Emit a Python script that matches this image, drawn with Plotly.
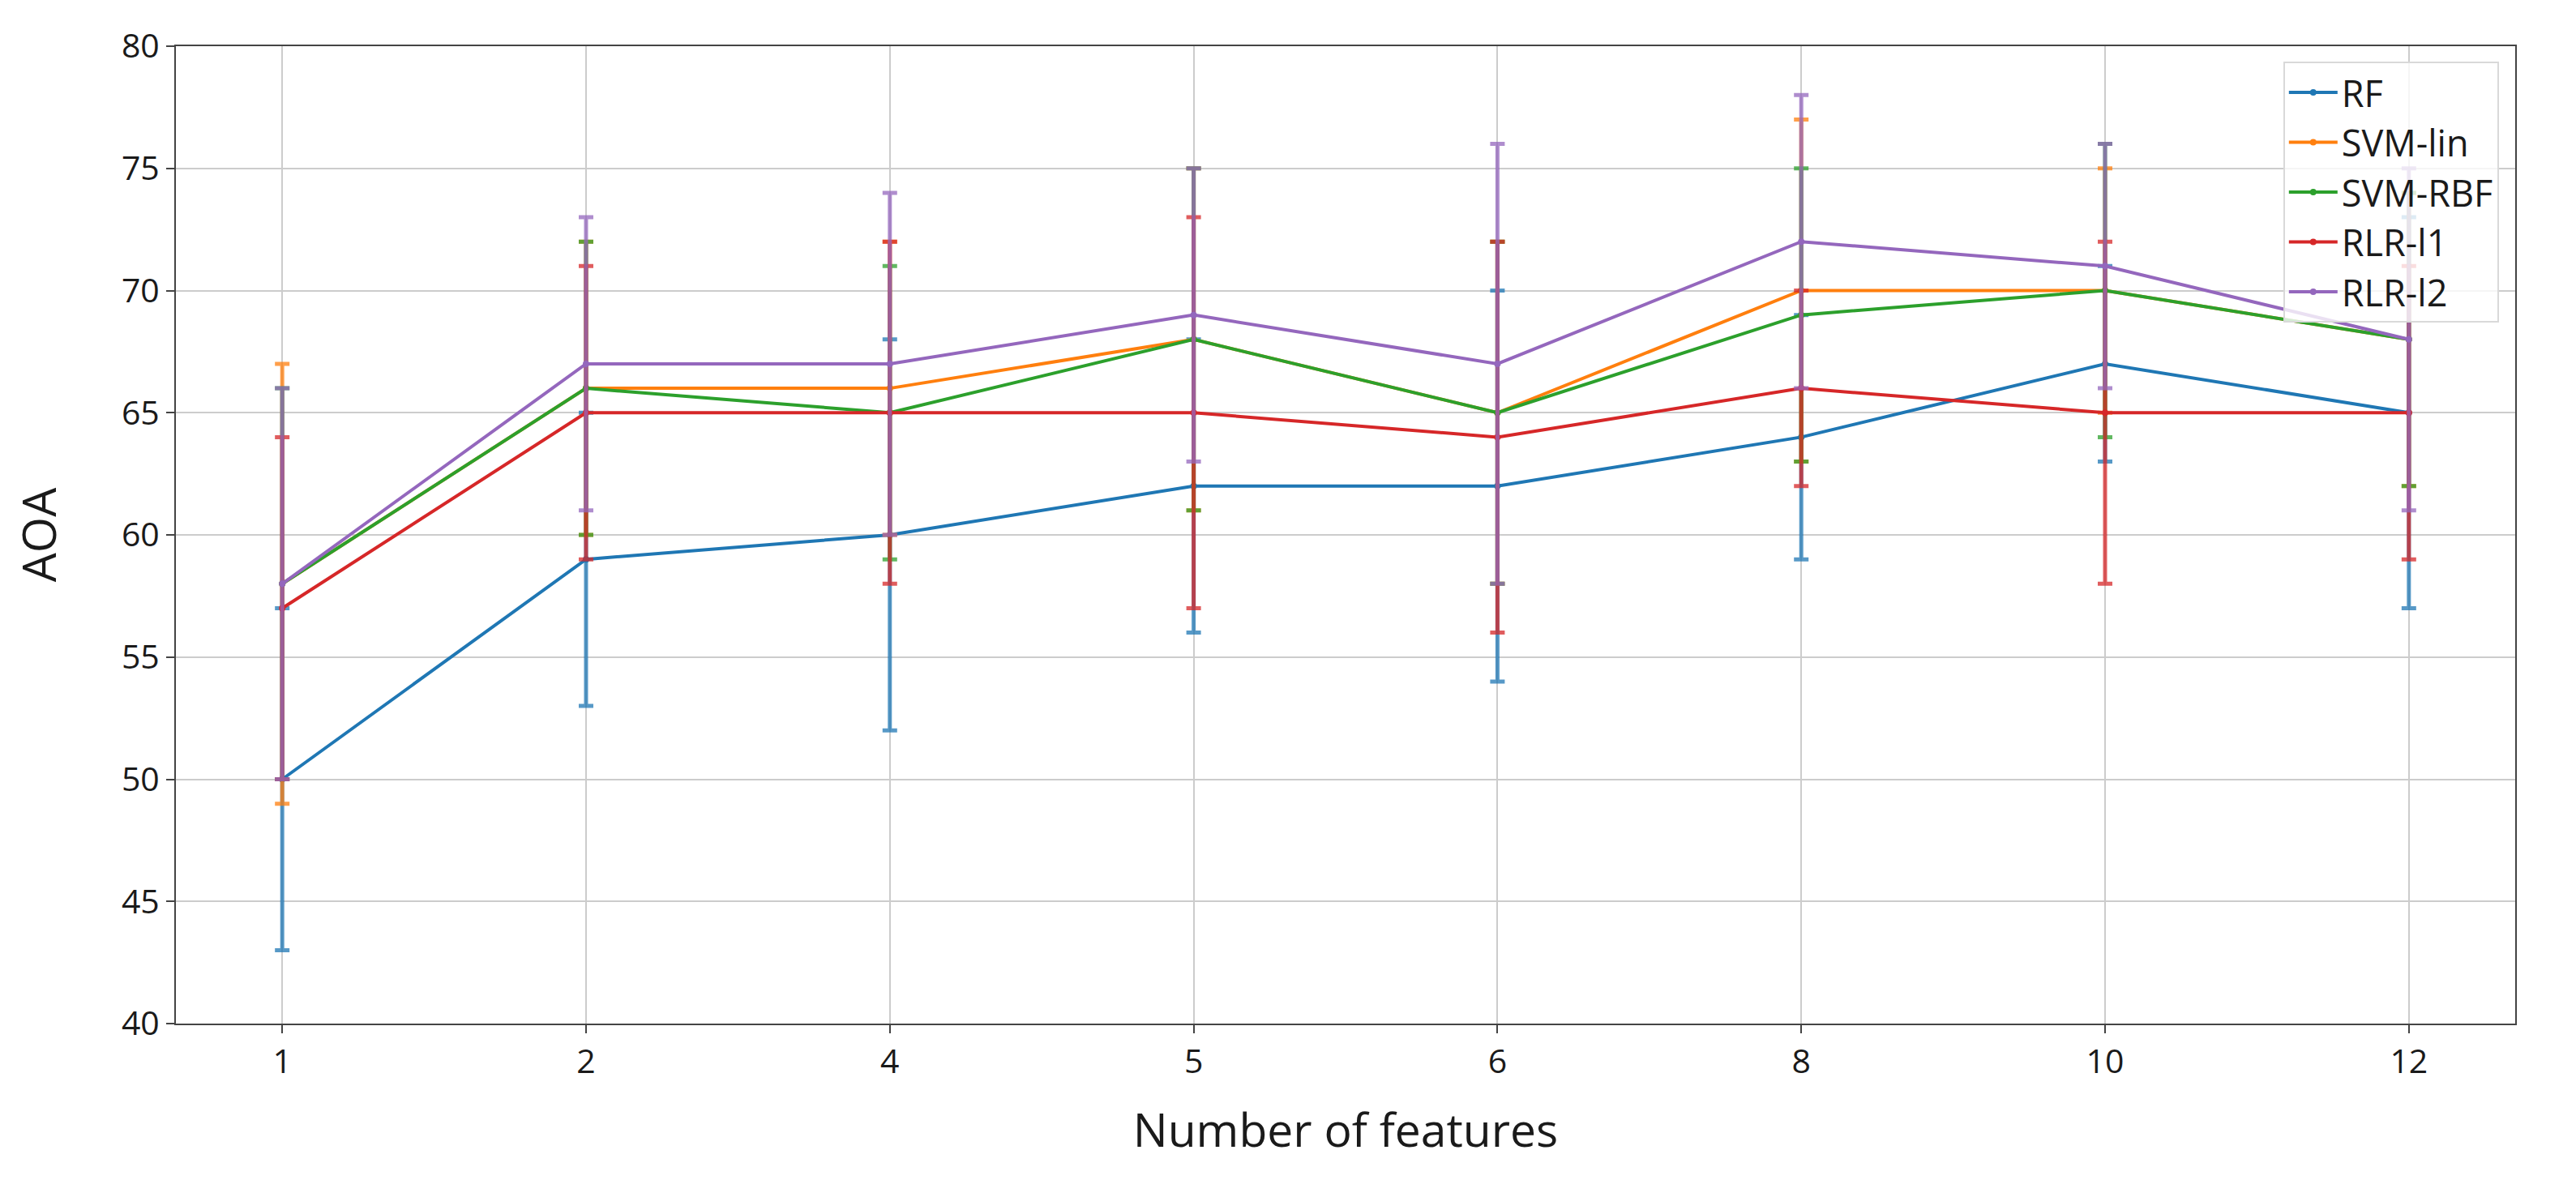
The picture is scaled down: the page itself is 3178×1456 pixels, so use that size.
import plotly.graph_objects as go

features = ["1", "2", "4", "5", "6", "8", "10", "12"]

rf_mean = [50, 59, 60, 62, 62, 64, 67, 65]
rf_err = [7, 6, 8, 6, 8, 5, 4, 8]

svm_lin_mean = [58, 66, 66, 68, 65, 70, 70, 68]
svm_lin_err = [9, 6, 6, 7, 7, 7, 5, 6]

svm_rbf_mean = [58, 66, 65, 68, 65, 69, 70, 68]
svm_rbf_err = [8, 6, 6, 7, 7, 6, 6, 6]

rlr_l1_mean = [57, 65, 65, 65, 64, 66, 65, 65]
rlr_l1_err = [7, 6, 7, 8, 8, 4, 7, 6]

rlr_l2_mean = [58, 67, 67, 69, 67, 72, 71, 68]
rlr_l2_err = [8, 6, 7, 6, 9, 6, 5, 7]

series = [
    ("RF", rf_mean, rf_err, "#1f77b4", "rgba(31,119,180,0.75)"),
    ("SVM-lin", svm_lin_mean, svm_lin_err, "#ff7f0e", "rgba(255,127,14,0.75)"),
    ("SVM-RBF", svm_rbf_mean, svm_rbf_err, "#2ca02c", "rgba(44,160,44,0.75)"),
    ("RLR-l1", rlr_l1_mean, rlr_l1_err, "#d62728", "rgba(214,39,40,0.75)"),
    ("RLR-l2", rlr_l2_mean, rlr_l2_err, "#9467bd", "rgba(148,103,189,0.75)"),
]

fig = go.Figure()
for name, mean, err, col, ecol in series:
    fig.add_trace(go.Scatter(
        x=features, y=mean, name=name, mode="lines+markers",
        line=dict(color=col, width=4),
        marker=dict(color=col, size=8),
        error_y=dict(type="data", array=err, visible=True, color=ecol,
                     thickness=5, width=9),
    ))

font_family = "Open Sans"
txt = "#1a1a1a"
fig.update_layout(
    width=3178, height=1456,
    margin=dict(l=209, r=83, t=49, b=201),
    paper_bgcolor="white", plot_bgcolor="white",
    font=dict(family=font_family, color=txt),
    showlegend=True,
    legend=dict(
        x=0.993, y=0.984, xanchor="right", yanchor="top",
        bgcolor="rgba(255,255,255,0.8)", bordercolor="#d9d9d9", borderwidth=2,
        font=dict(size=45, family=font_family, color=txt),
        itemwidth=60,
    ),
)
fig.update_xaxes(
    type="category", range=[-0.35, 7.35],
    showgrid=True, gridcolor="#cccccc", gridwidth=2,
    showline=True, linecolor="#444444", linewidth=2, mirror=True,
    ticks="outside", ticklen=10, tickwidth=2, tickcolor="#444444",
    tickfont=dict(size=41, family=font_family, color=txt),
    title=dict(text="Number of features", font=dict(size=57, family=font_family, color=txt), standoff=40),
)
fig.update_yaxes(
    range=[40, 80], dtick=5, tick0=40,
    showgrid=True, gridcolor="#cccccc", gridwidth=2,
    showline=True, linecolor="#444444", linewidth=2, mirror=True,
    ticks="outside", ticklen=10, tickwidth=2, tickcolor="#444444",
    zeroline=False,
    tickfont=dict(size=41, family=font_family, color=txt),
    title=dict(text="AOA", font=dict(size=57, family=font_family, color=txt), standoff=62),
)

fig.write_html("out.html")
